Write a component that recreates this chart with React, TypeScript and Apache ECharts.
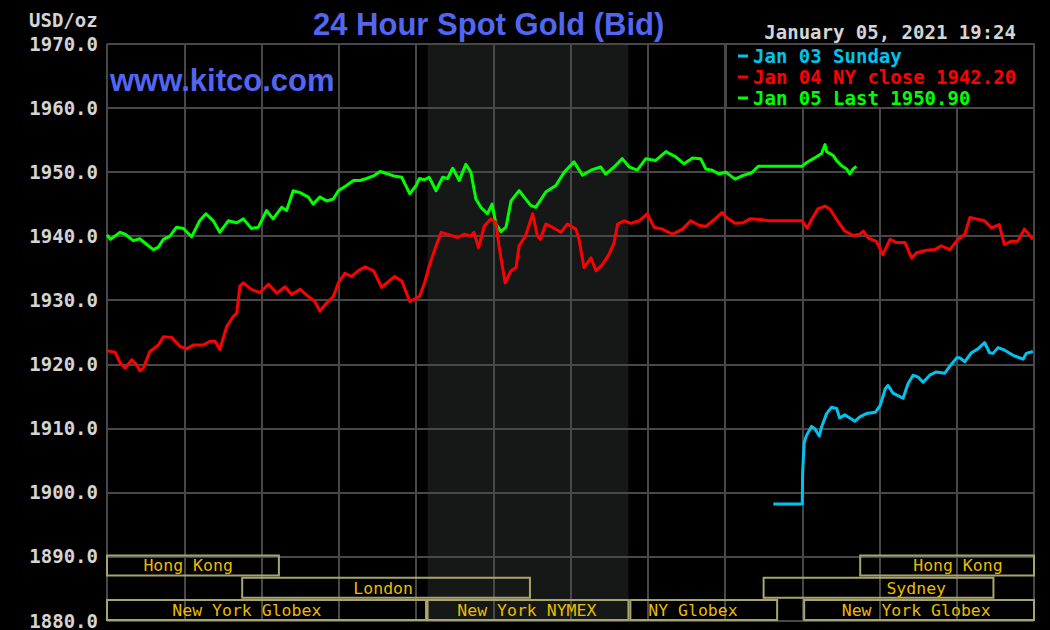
import React, { useEffect, useRef } from "react";
import * as echarts from "echarts";

// ---- Data (hours since midnight, price USD/oz) ----
const jan03Hours = [17.25, 18.0, 18.01, 18.05, 18.11, 18.24, 18.33, 18.44, 18.5, 18.63, 18.76, 18.89, 18.97, 19.1, 19.23, 19.36, 19.49, 19.66, 19.89, 20.02, 20.15, 20.22, 20.35, 20.48, 20.61, 20.74, 20.87, 21.0, 21.13, 21.3, 21.47, 21.69, 21.82, 22.0, 22.08, 22.21, 22.38, 22.55, 22.72, 22.85, 22.94, 23.07, 23.24, 23.46, 23.59, 23.72, 23.8, 23.97];
const jan03Prices = [1898.2, 1898.2, 1903.1, 1907.8, 1908.9, 1910.3, 1909.9, 1908.8, 1910.2, 1912.3, 1913.3, 1913.1, 1911.6, 1912.1, 1911.6, 1911.1, 1911.8, 1912.3, 1912.5, 1913.6, 1916.2, 1916.7, 1915.5, 1915.1, 1914.7, 1917.0, 1918.3, 1918.0, 1917.2, 1918.3, 1918.8, 1918.6, 1919.7, 1921.0, 1921.0, 1920.4, 1921.8, 1922.4, 1923.4, 1921.8, 1921.7, 1922.6, 1922.2, 1921.4, 1921.1, 1920.8, 1921.7, 1922.0];

const jan04Hours = [0, 0.21, 0.34, 0.47, 0.64, 0.77, 0.85, 0.94, 1.11, 1.33, 1.46, 1.67, 1.89, 2.06, 2.23, 2.49, 2.67, 2.8, 2.92, 3.1, 3.27, 3.36, 3.44, 3.53, 3.74, 3.96, 4.18, 4.4, 4.61, 4.78, 5.0, 5.21, 5.38, 5.51, 5.69, 5.86, 5.99, 6.16, 6.33, 6.5, 6.68, 6.9, 7.11, 7.24, 7.45, 7.63, 7.84, 8.0, 8.09, 8.22, 8.34, 8.52, 8.65, 8.86, 9.08, 9.25, 9.42, 9.5, 9.62, 9.77, 9.94, 10.07, 10.16, 10.31, 10.46, 10.59, 10.67, 10.84, 11.02, 11.14, 11.22, 11.36, 11.53, 11.75, 11.92, 12.14, 12.22, 12.35, 12.53, 12.66, 12.83, 13.0, 13.13, 13.22, 13.39, 13.56, 13.78, 13.99, 14.16, 14.38, 14.64, 14.9, 15.11, 15.33, 15.5, 15.72, 15.93, 16.04, 16.26, 16.47, 16.65, 16.91, 17.12, 18.0, 18.13, 18.24, 18.41, 18.59, 18.72, 18.89, 19.1, 19.32, 19.49, 19.58, 19.71, 19.92, 20.09, 20.27, 20.44, 20.66, 20.83, 20.96, 21.22, 21.43, 21.6, 21.82, 22.03, 22.21, 22.34, 22.5, 22.72, 22.9, 23.1, 23.23, 23.4, 23.58, 23.75, 23.84, 23.97];
const jan04Prices = [1922.1, 1921.9, 1920.2, 1919.4, 1920.7, 1919.9, 1919.0, 1919.4, 1922.0, 1923.0, 1924.3, 1924.2, 1922.8, 1922.4, 1923.0, 1923.0, 1923.6, 1923.6, 1922.3, 1925.9, 1927.5, 1928.0, 1932.2, 1932.7, 1931.7, 1931.2, 1932.5, 1931.1, 1932.1, 1930.9, 1931.7, 1930.6, 1929.8, 1928.3, 1929.6, 1930.6, 1932.7, 1934.2, 1933.7, 1934.6, 1935.2, 1934.6, 1932.0, 1932.7, 1933.7, 1933.0, 1929.8, 1930.3, 1930.6, 1932.7, 1935.3, 1938.5, 1940.6, 1940.2, 1939.8, 1940.3, 1940.0, 1940.6, 1938.2, 1941.6, 1942.7, 1942.1, 1938.0, 1932.7, 1934.6, 1935.1, 1938.5, 1940.1, 1943.5, 1940.1, 1939.5, 1941.9, 1941.4, 1940.6, 1941.9, 1941.1, 1939.5, 1935.1, 1936.6, 1934.6, 1935.6, 1937.2, 1939.0, 1941.9, 1942.4, 1942.0, 1942.4, 1943.5, 1941.4, 1941.1, 1940.3, 1941.1, 1942.4, 1941.7, 1941.5, 1942.6, 1943.7, 1942.9, 1942.0, 1942.1, 1942.7, 1942.6, 1942.4, 1942.4, 1941.2, 1942.6, 1944.3, 1944.7, 1944.2, 1942.6, 1940.8, 1940.1, 1940.3, 1940.8, 1939.7, 1939.2, 1937.1, 1939.5, 1939.0, 1939.0, 1936.6, 1937.4, 1937.8, 1937.9, 1938.5, 1937.9, 1939.5, 1940.3, 1942.9, 1942.7, 1942.4, 1941.3, 1941.8, 1938.7, 1939.2, 1939.2, 1941.1, 1940.5, 1939.5];

const jan05Hours = [0, 0.09, 0.34, 0.47, 0.68, 0.85, 1.03, 1.2, 1.33, 1.46, 1.63, 1.8, 1.98, 2.19, 2.4, 2.56, 2.75, 2.92, 3.14, 3.36, 3.53, 3.74, 3.92, 4.13, 4.3, 4.52, 4.65, 4.82, 5.0, 5.21, 5.34, 5.51, 5.69, 5.86, 5.99, 6.2, 6.38, 6.55, 6.72, 6.9, 7.07, 7.28, 7.42, 7.63, 7.84, 8.0, 8.09, 8.22, 8.34, 8.52, 8.69, 8.82, 8.95, 9.12, 9.29, 9.42, 9.55, 9.68, 9.85, 9.97, 10.07, 10.2, 10.33, 10.46, 10.67, 10.8, 10.97, 11.1, 11.36, 11.62, 11.84, 12.09, 12.31, 12.53, 12.78, 12.91, 13.13, 13.34, 13.52, 13.73, 13.95, 14.2, 14.47, 14.72, 14.94, 15.16, 15.37, 15.5, 15.67, 15.84, 16.02, 16.26, 16.47, 16.69, 16.86, 18.0, 18.07, 18.2, 18.37, 18.5, 18.59, 18.63, 18.8, 18.89, 19.02, 19.15, 19.23, 19.32, 19.4];
const jan05Prices = [1940.2, 1939.5, 1940.6, 1940.3, 1939.3, 1939.6, 1938.7, 1937.9, 1938.3, 1939.5, 1940.0, 1941.4, 1941.2, 1939.9, 1942.4, 1943.5, 1942.4, 1940.6, 1942.4, 1942.1, 1942.7, 1941.2, 1941.4, 1944.0, 1942.7, 1944.5, 1944.0, 1947.1, 1946.8, 1946.1, 1945.0, 1946.1, 1945.5, 1945.8, 1947.1, 1947.9, 1948.7, 1948.7, 1949.0, 1949.4, 1950.1, 1949.7, 1949.4, 1949.2, 1946.6, 1947.9, 1949.0, 1948.8, 1949.2, 1947.1, 1949.2, 1949.0, 1950.6, 1948.7, 1951.2, 1950.0, 1945.8, 1944.5, 1943.5, 1945.0, 1941.9, 1940.7, 1941.4, 1945.5, 1947.1, 1946.1, 1944.8, 1944.5, 1946.9, 1947.9, 1950.0, 1951.6, 1949.5, 1950.3, 1950.8, 1949.7, 1950.8, 1952.1, 1950.8, 1950.3, 1952.1, 1951.8, 1953.2, 1952.4, 1951.3, 1952.2, 1952.1, 1950.5, 1950.3, 1949.7, 1950.0, 1948.9, 1949.5, 1949.9, 1950.9, 1950.9, 1951.3, 1951.8, 1952.4, 1952.9, 1954.3, 1953.2, 1952.6, 1951.8, 1951.0, 1950.5, 1949.7, 1950.5, 1950.9];

const seriesNames = ["Jan 03 Sunday", "Jan 04 NY close 1942.20", "Jan 05 Last 1950.90"];
const seriesColors = ["#00c4ee", "#ff0000", "#00ff00"];

// Trading sessions (hours)
const sessionNames = ["Hong Kong", "London", "New York Globex", "New York NYMEX", "NY Globex", "New York Globex", "Sydney", "Hong Kong"];
const sessionStart = [0, 3.5, 0, 8.3, 13.55, 18.05, 17.0, 19.5];
const sessionEnd = [4.45, 10.95, 8.26, 13.5, 17.35, 24, 22.95, 24];
const sessionRow = [2, 1, 0, 0, 0, 0, 1, 2];
const nymexShade = [8.3, 13.5];

// layout-only: where each session label is centred (hours)
const sessionLabelAt = [2.1, 7.15, 3.62, 10.87, 15.17, 20.95, 20.95, 22.03];

const yTicks = { min: 1880, max: 1970, step: 10 };

const MONO = '"DejaVu Sans Mono", monospace';
const GRID = "#484848";

export default function App() {
  const ref = useRef<HTMLDivElement>(null);
  useEffect(() => {
    if (!ref.current) return;
    const chart = echarts.init(ref.current, null, { renderer: "svg", width: 1050, height: 630 });
    const zip = (h: number[], p: number[]) => h.map((x, i) => [x, p[i]]);
    const lineSeries = (i: number, h: number[], p: number[]) => ({
      type: "line",
      name: seriesNames[i],
      data: zip(h, p),
      showSymbol: false,
      symbol: "none",
      z: 3,
      color: seriesColors[i],
      lineStyle: { color: seriesColors[i], width: 3, join: "round" },
      silent: true,
    });
    const option: any = {
      animation: false,
      backgroundColor: "#000",
      title: {
        text: "24 Hour Spot Gold (Bid)",
        left: 313,
        top: 9,
        padding: 0,
        textStyle: { color: "#5366f2", fontFamily: '"Liberation Sans", Arial', fontWeight: "bold", fontSize: 31 },
      },
      grid: { left: 107, right: 16, top: 44, bottom: 8, show: false },
      xAxis: {
        type: "value",
        min: 0,
        max: 24,
        interval: 2,
        z: 1,
        axisLine: { show: false },
        axisTick: { show: false },
        axisLabel: { show: false },
        splitLine: { show: true, lineStyle: { color: GRID, width: 2 } },
      },
      yAxis: {
        type: "value",
        min: yTicks.min,
        max: yTicks.max,
        interval: yTicks.step,
        z: 1,
        axisLine: { show: false },
        axisTick: { show: false },
        axisLabel: {
          formatter: (v: number) => v.toFixed(1),
          color: "#d4d4d4",
          fontFamily: MONO,
          fontSize: 19,
          fontWeight: "bold",
          margin: 9,
        },
        splitLine: { show: true, lineStyle: { color: GRID, width: 2 } },
      },
      legend: {
        orient: "vertical",
        left: 738,
        top: 46,
        padding: 0,
        itemGap: 1,
        itemWidth: 10,
        itemHeight: 3,
        icon: "rect",
        selectedMode: false,
        z: 6,
        textStyle: { fontFamily: MONO, fontSize: 19, fontWeight: "bold", lineHeight: 20 },
        data: seriesNames.map((n, i) => ({ name: n, textStyle: { color: seriesColors[i] } })),
      },
      graphic: [
        {
          type: "rect",
          z: 5,
          shape: { x: 726, y: 44, width: 308, height: 64 },
          style: { fill: "#000", stroke: GRID, lineWidth: 2 },
        },
        {
          type: "text",
          z: 10,
          x: 110,
          y: 80,
          style: { text: "www.kitco.com", fill: "#5366f2", font: 'bold 31px "Liberation Sans", Arial', verticalAlign: "middle" },
        },
        {
          type: "text",
          z: 10,
          x: 29,
          y: 20,
          style: { text: "USD/oz", fill: "#d4d4d4", font: `bold 19px ${MONO}`, verticalAlign: "middle" },
        },
        {
          type: "text",
          z: 10,
          x: 1016,
          y: 32,
          style: { text: "January 05, 2021 19:24", fill: "#d4d4d4", font: `bold 19px ${MONO}`, align: "right", verticalAlign: "middle" },
        },
      ],
      series: [
        {
          type: "custom",
          name: "shade",
          z: 0.5,
          silent: true,
          data: [nymexShade],
          encode: { x: [0, 1] },
          renderItem: (params: any, api: any) => {
            const a = api.coord([api.value(0), yTicks.max]);
            const b = api.coord([api.value(1), yTicks.min]);
            return { type: "rect", shape: { x: a[0], y: a[1], width: b[0] - a[0], height: b[1] - a[1] }, style: { fill: "#161818" } };
          },
        },
        lineSeries(0, jan03Hours, jan03Prices),
        lineSeries(2, jan05Hours, jan05Prices),
        lineSeries(1, jan04Hours, jan04Prices),
        {
          type: "custom",
          name: "sessions",
          z: 4,
          silent: true,
          clip: false,
          data: sessionStart.map((s, i) => [s, sessionEnd[i], sessionRow[i], sessionLabelAt[i]]),
          encode: { x: [0, 1] },
          renderItem: (params: any, api: any) => {
            const i = params.dataIndex;
            const a = api.coord([api.value(0), yTicks.min]);
            const b = api.coord([api.value(1), yTicks.min]);
            const c = api.coord([api.value(3), yTicks.min]);
            const bottom = a[1];
            const top = bottom - 20.5 - api.value(2) * 22.3;
            return {
              type: "group",
              children: [
                { type: "rect", shape: { x: a[0], y: top, width: b[0] - a[0], height: 20 }, style: { fill: "none", stroke: "#a8a56c", lineWidth: 2 } },
                { type: "text", x: c[0], y: top + 10.5, style: { text: sessionNames[i], fill: "#e8bd00", font: `16.5px ${MONO}`, align: "center", verticalAlign: "middle" } },
              ],
            };
          },
        },
      ],
    };
    chart.setOption(option);
    return () => chart.dispose();
  }, []);
  return <div ref={ref} style={{ position: "fixed", left: 0, top: 0, width: 1050, height: 630, background: "#000" }} />;
}
